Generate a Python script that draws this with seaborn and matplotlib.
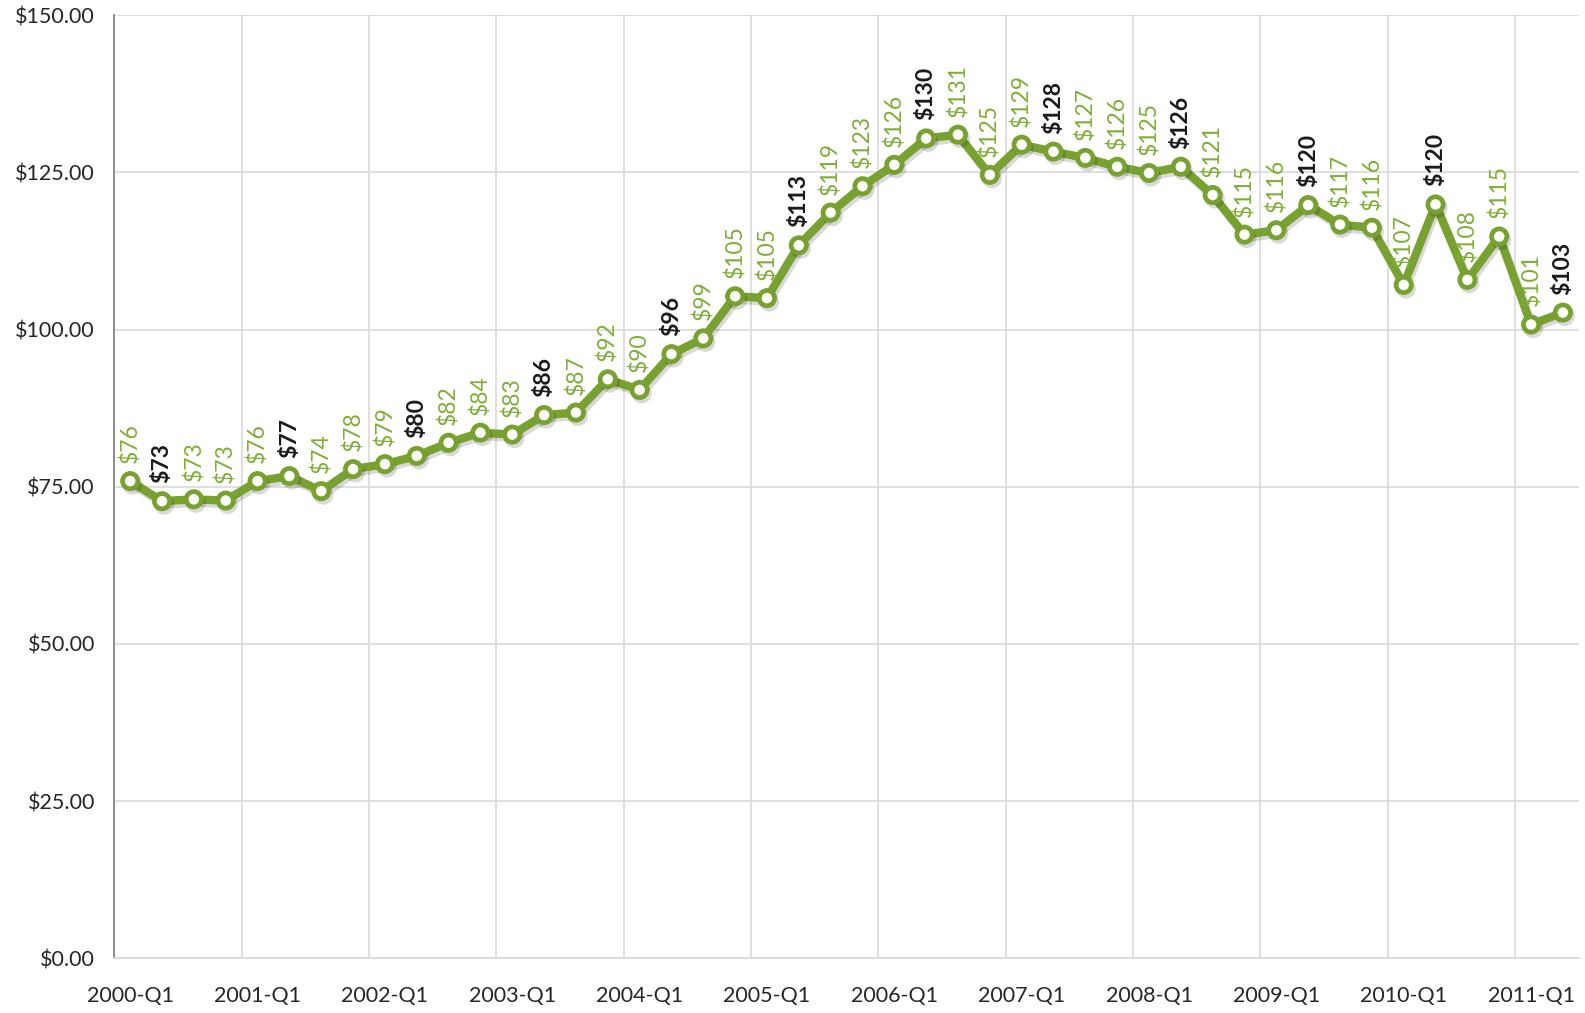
import matplotlib
matplotlib.use("Agg")
import matplotlib.pyplot as plt
import matplotlib.patheffects as pe
from matplotlib.ticker import FixedLocator, FuncFormatter
import seaborn as sns
import pandas as pd

# Quarterly values, 2000-Q1 .. 2011-Q2
quarters = [f"{y}-Q{q}" for y in range(2000, 2012) for q in range(1, 5)][:46]
values = [75.9, 72.7, 73.0, 72.8, 75.9, 76.7, 74.3, 77.8, 78.6, 79.9,
          82.0, 83.6, 83.3, 86.4, 86.8, 92.1, 90.4, 96.1, 98.6, 105.3,
          105.0, 113.4, 118.6, 122.8, 126.2, 130.4, 131.0, 124.6, 129.4, 128.3,
          127.3, 125.9, 124.9, 125.9, 121.4, 115.1, 115.8, 119.8, 116.7, 116.2,
          107.1, 119.9, 107.9, 114.8, 100.8, 102.7]
yticks = [0, 25, 50, 75, 100, 125, 150]

df = pd.DataFrame({"idx": range(len(values)), "quarter": quarters, "value": values})

sns.set_style("white")
plt.rcParams["font.family"] = ["Lato", "DejaVu Sans"]

line_green = "#77a22f"
label_green = "#7fae36"

fig = plt.figure(figsize=(15.85, 10.13), dpi=100)
ax = fig.add_axes([0.0721, 0.054, 0.924, 0.931])

sns.lineplot(data=df, x="idx", y="value", ax=ax, color=line_green, linewidth=6,
             marker="o", markersize=11, markerfacecolor="white",
             markeredgecolor=line_green, markeredgewidth=3.4, zorder=5,
             path_effects=[pe.SimpleLineShadow(offset=(1.5, -2.5), alpha=0.15), pe.Normal()])

# data labels, Q2 values in bold black
for i, v in enumerate(values):
    q2 = quarters[i].endswith("Q2")
    ax.annotate(f"${v:.0f}", (i, v), xytext=(0, 13), textcoords="offset points",
                rotation=90, ha="center", va="bottom", fontsize=16.5,
                color="#1a1a1a" if q2 else label_green,
                fontweight="bold" if q2 else "normal", zorder=6)

ax.set_xlim(-0.5, len(values) - 0.5)
ax.set_ylim(0, 150)

ax.yaxis.set_major_locator(FixedLocator(yticks))
ax.yaxis.set_major_formatter(FuncFormatter(lambda v, p: f"${v:.2f}"))

label_pos = list(range(0, len(values), 4))
ax.set_xticks(label_pos)
ax.set_xticklabels([quarters[i] for i in label_pos])
ax.set_xticks([i - 0.5 for i in label_pos], minor=True)

ax.grid(False)
ax.grid(axis="y", which="major", color="#d9d9d9", linewidth=1.2)
ax.grid(axis="x", which="minor", color="#d9d9d9", linewidth=1.2)

ax.tick_params(axis="x", which="major", length=0, pad=20, labelsize=15.5, colors="#262626")
ax.tick_params(axis="x", which="minor", length=6, width=1.2, color="#d9d9d9")
ax.tick_params(axis="y", which="major", length=6, width=1.2, color="#868686",
               labelsize=15.5, labelcolor="#262626", pad=8)

for s in ["top", "right"]:
    ax.spines[s].set_visible(False)
ax.spines["left"].set_color("#868686")
ax.spines["left"].set_linewidth(1.3)
ax.spines["bottom"].set_color("#d9d9d9")
ax.spines["bottom"].set_linewidth(1.2)

ax.set_xlabel("")
ax.set_ylabel("")

plt.savefig("out.png", dpi=100)
